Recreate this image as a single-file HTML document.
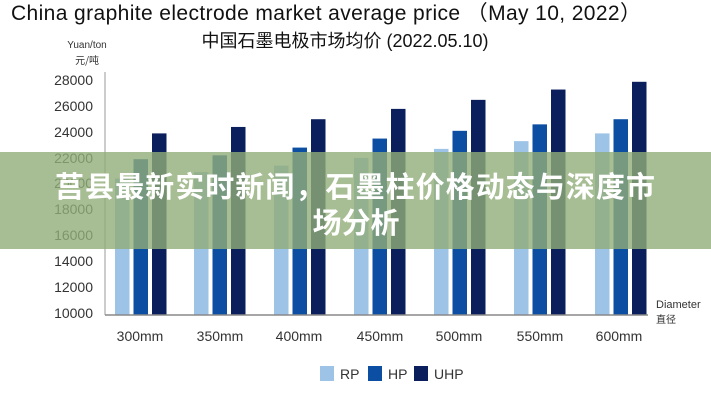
<!DOCTYPE html>
<html><head><meta charset="utf-8"><style>
body{margin:0;width:711px;height:400px;background:#fff;overflow:hidden;font-family:"Liberation Sans","Noto Sans CJK SC",sans-serif;}
</style></head><body>
<svg width="711" height="400" xmlns="http://www.w3.org/2000/svg" style="position:absolute;left:0;top:0">
<text x="326" y="20" font-size="21" text-anchor="middle" fill="#111" textLength="630" font-family="Liberation Sans, Noto Sans CJK SC, sans-serif">China graphite electrode market average price （May 10, 2022）</text>
<text x="345" y="47" font-size="18" text-anchor="middle" fill="#111" font-family="Liberation Sans, Noto Sans CJK SC, sans-serif">中国石墨电极市场均价 (2022.05.10)</text>
<text x="87" y="48" font-size="10" text-anchor="middle" fill="#333">Yuan/ton</text>
<text x="99" y="64" font-size="10" text-anchor="end" fill="#333" font-family="Noto Sans CJK SC, sans-serif">元/吨</text>
<g font-size="14" fill="#333" text-anchor="end">
<text x="93" y="85">28000</text><text x="93" y="111">26000</text><text x="93" y="137">24000</text><text x="93" y="163">22000</text><text x="93" y="188">20000</text><text x="93" y="214">18000</text><text x="93" y="240">16000</text><text x="93" y="266">14000</text><text x="93" y="292">12000</text><text x="93" y="318">10000</text>
</g>
<line x1="105" y1="72" x2="105" y2="315" stroke="#bbb" stroke-width="1.5"/>
<g id="bars"></g>
<line x1="105" y1="315" x2="648" y2="315" stroke="#888" stroke-width="1.5"/>
<text x="656" y="308" font-size="11" fill="#333">Diameter</text>
<text x="656" y="323" font-size="10" fill="#333" font-family="Noto Sans CJK SC, sans-serif">直径</text>
<g font-size="14" fill="#333" text-anchor="middle">
<text x="140" y="341">300mm</text><text x="220" y="341">350mm</text><text x="299" y="341">400mm</text><text x="380" y="341">450mm</text><text x="459" y="341">500mm</text><text x="540" y="341">550mm</text><text x="619" y="341">600mm</text>
</g>
<rect x="320" y="366" width="14" height="15" fill="#9dc3e6"/><text x="340" y="379" font-size="14" fill="#333">RP</text>
<rect x="368" y="366" width="14" height="15" fill="#0b4ea2"/><text x="388" y="379" font-size="14" fill="#333">HP</text>
<rect x="414" y="366" width="14" height="15" fill="#0a1f5c"/><text x="434" y="379" font-size="14" fill="#333">UHP</text>
<rect x="0" y="152" width="711" height="97" fill="rgb(145,172,120)" fill-opacity="0.8"/>
<text x="355" y="197" font-size="29" font-weight="bold" fill="#fff" text-anchor="middle" textLength="600" font-family="Noto Sans CJK SC, sans-serif">莒县最新实时新闻，石墨柱价格动态与深度市</text>
<text x="356" y="233" font-size="29" font-weight="bold" fill="#fff" text-anchor="middle" font-family="Noto Sans CJK SC, sans-serif">场分析</text>
</svg>
<script>
var rp=[20500,21000,21500,22100,22800,23400,24000],hp=[22000,22300,22900,23600,24200,24700,25100],uhp=[24000,24500,25100,25900,26600,27400,28000];
var starts=[115,194,274,354,434,514,595],cols=['#9dc3e6','#0b4ea2','#0a1f5c'];
var g=document.getElementById('bars'),s='';
function y(v){return 314-(v-10000)/2000*25.8;}
for(var i=0;i<7;i++){[rp,hp,uhp].forEach(function(a,k){var yy=y(a[i]);s+='<rect x="'+(starts[i]+k*18.5)+'" y="'+yy+'" width="14.5" height="'+(315-yy)+'" fill="'+cols[k]+'"/>';});}
g.innerHTML=s;
</script>
</body></html>
